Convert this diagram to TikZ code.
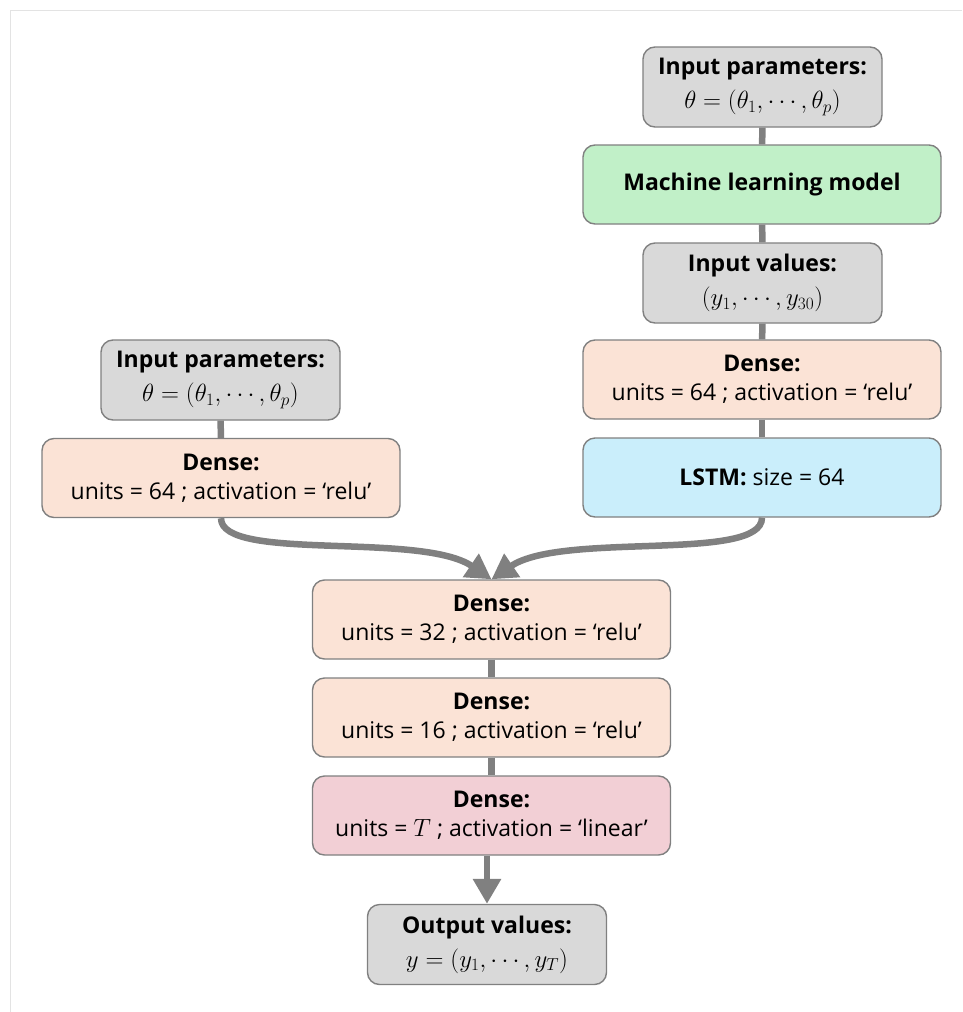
\documentclass[tikz,border=0pt]{standalone}
\usepackage{fontspec}
\setmainfont{Open Sans}
\usetikzlibrary{arrows.meta}

\definecolor{boxgray}{HTML}{D9D9D9}
\definecolor{boxgreen}{HTML}{C1F0C8}
\definecolor{boxpeach}{HTML}{FBE3D6}
\definecolor{boxblue}{HTML}{CAEEFB}
\definecolor{boxpink}{HTML}{F2CFD5}
\definecolor{edgegray}{HTML}{808080}
\definecolor{framegray}{HTML}{E3E3E3}

\newcommand{\mathline}[1]{{\fontsize{26}{29}\selectfont$#1$}}

\tikzset{
  layerbox/.style={rectangle, rounded corners=12pt, draw=edgegray, line width=1.4pt,
    align=center, inner sep=0pt, font=\fontsize{23}{29}\selectfont},
  narrowbox/.style={layerbox, minimum width=239pt, minimum height=80pt},
  widebox/.style={layerbox, minimum width=358pt, minimum height=79pt},
  link/.style={draw=edgegray, line width=6.5pt},
  flowarrow/.style={link, -{Triangle[length=25pt,width=27pt]}},
}

\begin{document}
\begin{tikzpicture}[x=1pt, y=-1pt]
\useasboundingbox (0,0) rectangle (962,1012);

% thin frame along the top and left edges
\draw[framegray, line width=1pt] (10,1012) -- (10,10) -- (962,10);

% right branch
\node[narrowbox, fill=boxgray] (ipR) at (762.5,87)
  {\textbf{Input parameters:}\\[5pt]\mathline{\theta=\bigl(\theta_1,\cdots,\theta_p\bigr)}};
\node[widebox, fill=boxgreen] (ml) at (762,184.5) {\textbf{Machine learning model}};
\node[narrowbox, fill=boxgray] (iv) at (762.5,283)
  {\textbf{Input values:}\\[5pt]\mathline{(y_1,\cdots,y_{30})}};
\node[widebox, fill=boxpeach] (dR) at (762,379.5)
  {\textbf{Dense:}\\units = 64 ; activation = ‘relu’};
\node[widebox, fill=boxblue] (lstm) at (762,477.5) {\textbf{LSTM:} size = 64};

% left branch
\node[narrowbox, fill=boxgray] (ipL) at (220.5,380)
  {\textbf{Input parameters:}\\[5pt]\mathline{\theta=\bigl(\theta_1,\cdots,\theta_p\bigr)}};
\node[widebox, fill=boxpeach] (dL) at (221,478)
  {\textbf{Dense:}\\units = 64 ; activation = ‘relu’};

% merged trunk
\node[widebox, fill=boxpeach] (d32) at (491.5,619.5)
  {\textbf{Dense:}\\units = 32 ; activation = ‘relu’};
\node[widebox, fill=boxpeach] (d16) at (491.5,717.5)
  {\textbf{Dense:}\\units = 16 ; activation = ‘relu’};
\node[widebox, fill=boxpink] (dT) at (491.5,815.5)
  {\textbf{Dense:}\\units = {\fontsize{26}{29}\selectfont$T$} ; activation = ‘linear’};
\node[narrowbox, fill=boxgray] (out) at (487,944.5)
  {\textbf{Output values:}\\[5pt]\mathline{y=(y_1,\cdots,y_T)}};

% straight links
\draw[link] (ipR) -- (ml);
\draw[link] (ml) -- (iv);
\draw[link] (iv) -- (dR);
\draw[link] (dR) -- (lstm);
\draw[link] (ipL) -- (dL);
\draw[link] (d32) -- (d16);
\draw[link] (d16) -- (dT);
\draw[flowarrow] (dT.south -| out.north) -- (out.north);

% merging arrows
\draw[flowarrow] (dL.south) .. controls +(0,44) and +(-71,-48) .. (d32.north);
\draw[flowarrow] (lstm.south) .. controls +(0,45) and +(71,-48) .. (d32.north);
\end{tikzpicture}
\end{document}
